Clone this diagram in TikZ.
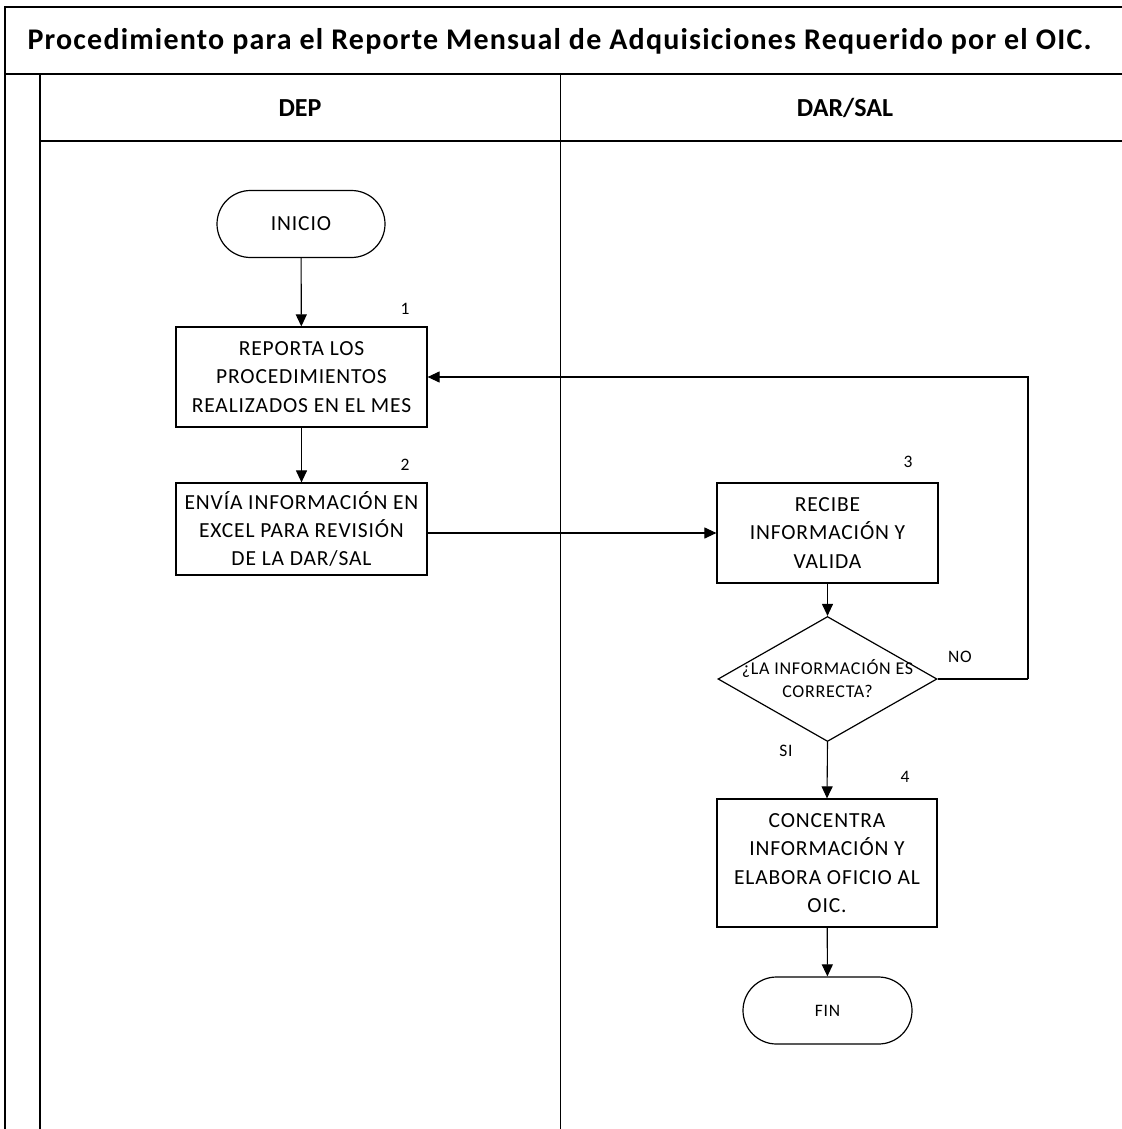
\documentclass[tikz,border=0pt]{standalone}
\usepackage{fontspec}
\setmainfont{Carlito}
\newfontfamily\boxfont{Carlito}[LetterSpace=4]
\newfontfamily\headfont{Carlito}[LetterSpace=4]
\usetikzlibrary{arrows.meta,shapes.geometric}

\begin{document}
\begin{tikzpicture}[x=1pt,y=-1pt,
  frame/.style={line width=1.6pt},
  link/.style={line width=1.1pt},
  arr/.style={link,-{Triangle[length=12pt,width=11pt]}},
  process/.style={draw,line width=1.2pt,inner sep=0pt,align=center,
    font=\boxfont\fontsize{21.5}{28.3}\selectfont},
  terminal/.style={draw,line width=1.2pt,rounded corners=33.5pt,
    minimum width=168pt,minimum height=67pt,inner sep=0pt},
  decision/.style={draw,line width=1.2pt,shape=diamond,inner sep=0pt,
    minimum width=219pt,minimum height=125pt},
  tag/.style={font=\boxfont\fontsize{17.5}{20}\selectfont},
  lanehead/.style={font=\bfseries\fontsize{26}{28}\selectfont}
]
\useasboundingbox (0,0) rectangle (1121,1129);

% frame of the swimlane chart
\draw[frame,line join=miter] (5,1140) -- (5,7) -- (1130,7);
\draw[frame] (5,74) -- (1130,74);
\draw[frame] (40,74) -- (40,1140);
\draw[frame] (40,141) -- (1130,141);
\draw[frame] (560.5,74) -- (560.5,1140);

% title and lane headers
\node (title) at (559.5,41) {\headfont\bfseries\fontsize{30}{32}\selectfont Procedimiento para el Reporte Mensual de Adquisiciones Requerido por el OIC.};
\node[lanehead] (dep) at (300,108) {DEP};
\node[lanehead] (darsal) at (845,108) {DAR/SAL};

% DEP lane
\node[terminal,font=\boxfont\fontsize{21.5}{24}\selectfont] (start) at (301,224) {INICIO};
\node[process,minimum width=251pt,minimum height=100pt] (b1) at (301.5,377)
  {REPORTA LOS\\PROCEDIMIENTOS\\REALIZADOS EN EL MES};
\node[process,minimum width=251pt,minimum height=92pt] (b2) at (301.5,529)
  {ENVÍA INFORMACIÓN EN\\EXCEL PARA REVISIÓN\\DE LA DAR/SAL};

% DAR/SAL lane
\node[process,minimum width=221pt,minimum height=100pt] (b3) at (827.5,533)
  {RECIBE\\INFORMACIÓN Y\\VALIDA};
\node[decision] (dia) at (827.5,679) {};
\node[font=\boxfont\fontsize{18}{23}\selectfont,align=center] (diatext) at (dia.center)
  {¿LA INFORMACIÓN ES\\CORRECTA?};
\node[process,minimum width=220pt,minimum height=128pt] (b4) at (827,863)
  {CONCENTRA\\INFORMACIÓN Y\\ELABORA OFICIO AL\\OIC.};
\node[terminal,minimum width=169pt,font=\boxfont\fontsize{17.5}{20}\selectfont] (fin) at (827.5,1010.5) {FIN};

% step numbers and branch labels
\node[tag] (n1) at (405,309) {1};
\node[tag] (n2) at (405,465) {2};
\node[tag] (n3) at (908,462) {3};
\node[tag] (n4) at (905,777) {4};
\node[tag] (no) at (960,657) {NO};
\node[tag] (si) at (786,751) {SI};

% connectors
\coordinate (loop) at (1028,679);
\draw[arr] (start) -- (b1);
\draw[arr] (b1) -- (b2);
\draw[arr] (b2.east |- b3.west) -- (b3.west);
\draw[arr] (b3) -- (dia.north);
\draw[link] (dia.east) -- (loop);
\draw[arr] (loop) |- (b1.east);
\draw[arr] (dia.south) -- (b4.north);
\draw[arr] (b4) -- (fin);
\end{tikzpicture}
\end{document}
